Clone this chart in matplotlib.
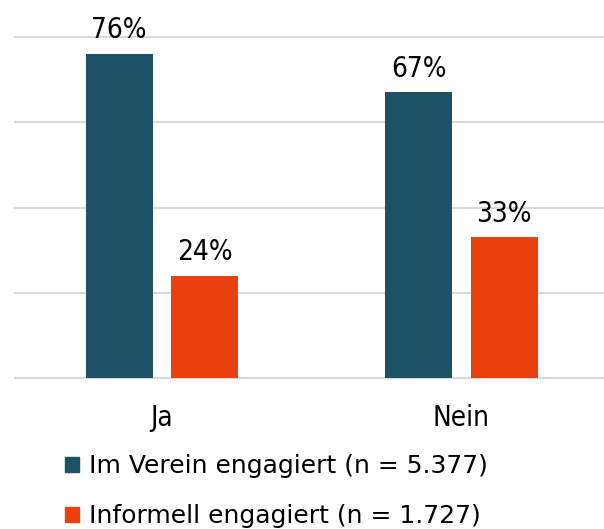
import numpy as np
import matplotlib.pyplot as plt
from matplotlib.patches import Patch

categories = ['Ja', 'Nein']
verein = [76, 67]
informell = [24, 33]
series_labels = ['Im Verein engagiert (n = 5.377)', 'Informell engagiert (n = 1.727)']
colors = ['#1b5265', '#e8410e']

plt.rcParams['font.family'] = ['DejaVu Sans']
plt.rcParams['font.stretch'] = 'condensed'

fig = plt.figure(figsize=(6.04, 5.29), dpi=100)
ax = fig.add_axes([15 / 604, 1 - 378 / 529, 589 / 604, 341 / 529])

x = np.arange(len(categories))
w = 0.224
off = 0.143
b1 = ax.bar(x - off, verein, w, color=colors[0], zorder=3)
b2 = ax.bar(x + off, informell, w, color=colors[1], zorder=3)

for bars, vals in ((b1, verein), (b2, informell)):
    for rect, v in zip(bars, vals):
        ax.annotate(f'{v}%', (rect.get_x() + rect.get_width() / 2, v),
                    xytext=(0, 7), textcoords='offset points',
                    ha='center', va='bottom', fontsize=20, clip_on=False)

ax.set_xlim(-0.491, 1.476)
ax.set_ylim(0, 80)
ax.set_yticks([0, 20, 40, 60, 80])
ax.yaxis.grid(True, color='#d9d9d9', linewidth=1.5, zorder=0)
for gl in ax.get_ygridlines():
    gl.set_clip_on(False)
ax.tick_params(axis='y', left=False, labelleft=False)
ax.tick_params(axis='x', length=0, labelsize=20, pad=19)
ax.set_xticks(x)
ax.set_xticklabels(categories)
for s in ax.spines.values():
    s.set_visible(False)

handles = [Patch(color=c) for c in colors]
fig.legend(handles, series_labels, loc='upper left', bbox_to_anchor=(55 / 604, 1 - 444 / 529),
           frameon=False, prop={'size': 18, 'stretch': 'normal'},
           handlelength=0.55, handleheight=0.55,
           handletextpad=0.4, labelspacing=1.05, borderaxespad=0)

fig.savefig('out.png', dpi=100)
